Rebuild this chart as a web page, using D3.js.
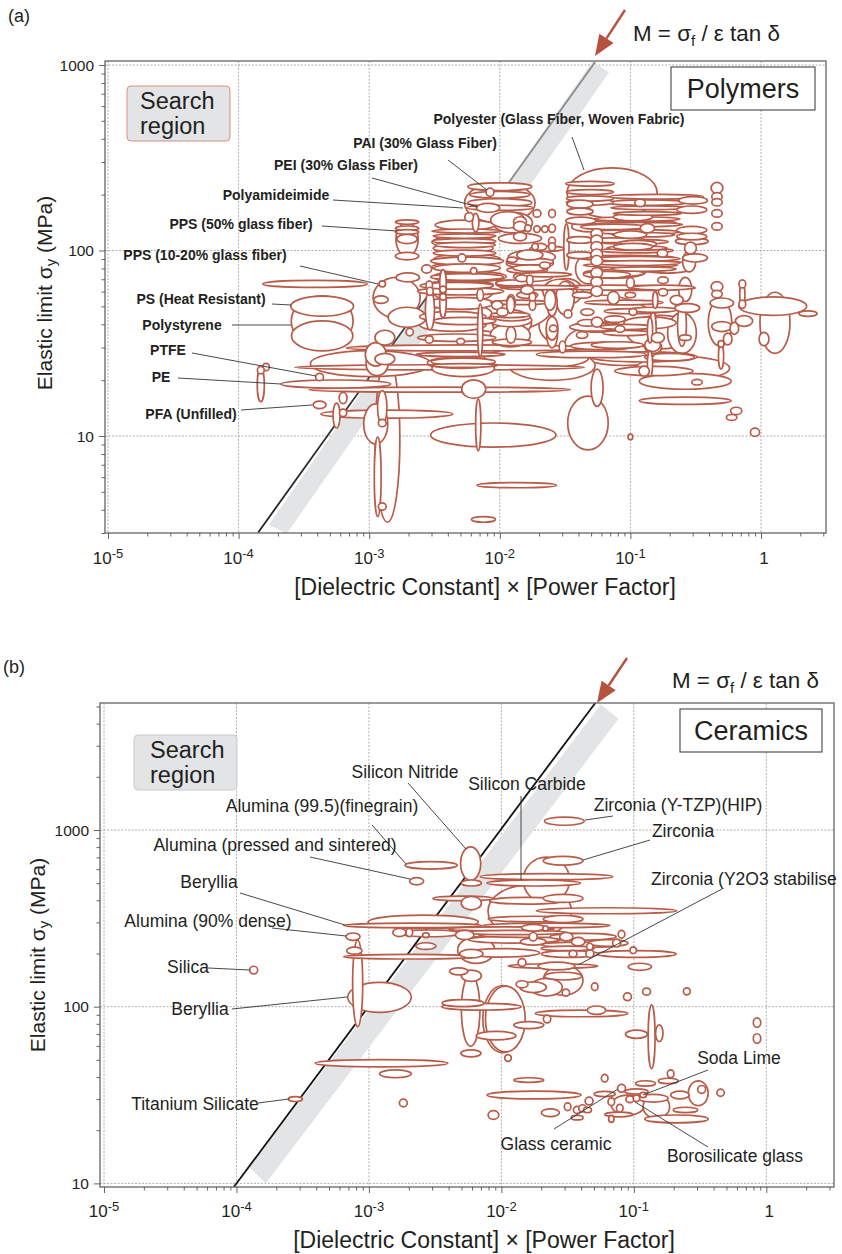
<!DOCTYPE html>
<html><head><meta charset="utf-8">
<script src="https://cdn.jsdelivr.net/npm/d3@7/dist/d3.min.js"></script>
<style>html,body{margin:0;padding:0;background:#fff}svg{display:block}text{font-family:"Liberation Sans",Arial,sans-serif;fill:#231f20}</style>
</head><body><svg id="c" width="842" height="1254"></svg>
<script>
// Every bubble row: [log10 x centre, log10 y centre, log10 half-span x, log10 half-span y]
const polyBackground=[[-2,2.256,.27,.108],[-1.14,2.31,.345,.135],[-1.907,1.61,.15,.07],[-2.79,1.745,.18,.11],[-3.36,1.62,.237,.135],[-2.86,.98,.095,.445],[-2.99,1.39,.46,.07],[-2.05,1.005,.48,.065],[-.6,1.365,.36,.063],[-.58,1.295,.352,.043],[-.58,1.19,.352,.02],[-2.205,1.475,.97,.016],[-2.46,1.37,1.11,.014],[-2.46,1.25,1,.014],[-2.865,1.118,.505,.022],[-3.255,1.28,.42,.022],[-3.415,1.82,.4,.019],[-1.87,.735,.305,.014],[-2.125,.55,.092,.015],[-1.325,1.07,.155,.145],[-1.255,1.26,.046,.1],[-1,.995,.018,.015],[-1.6,1.38,.33,.08],[-1.05,1.5,.45,.12],[-2.0,1.7,.4,.14],[-1.25,1.6,.45,.16],[-.82,1.35,.3,.025],[-1.3,1.44,.42,.018]];
const polyLabelled=[[-3.36,1.7,.24,.054],[-3.36,1.54,.235,.081],[-2.9,1.82,.025,.016],[-2.71,2.153,.09,.012],[-2.71,2.12,.09,.012],[-2.71,2.1,.09,.012],[-2.71,2.062,.078,.025],[-2.71,1.97,.09,.02],[-2.71,2.06,.085,.09],[-3.38,1.318,.03,.02],[-3.79,1.372,.026,.02],[-3.83,1.355,.026,.02],[-3.83,1.275,.027,.09],[-3.2,1.205,.03,.03],[-3.38,1.168,.05,.02],[-3.25,1.11,.027,.067],[-3.2,1.125,.028,.02]];
const polyLowColumn=[[-2.91,1.735,.056,.02],[-2.71,1.64,.145,.054],[-2.69,1.56,.028,.02],[-2.54,1.52,.03,.02],[-2.3,1.51,.03,.016],[-2.88,1.53,.076,.04],[-2.95,1.44,.08,.063],[-2.88,1.415,.076,.03],[-2.94,1.39,.085,.065],[-2.28,1.365,.24,.045],[-2.28,1.4,.245,.02],[-2.28,1.38,.26,.01],[-2.95,1.065,.092,.108],[-2.9,1.155,.036,.09],[-2.9,1.07,.03,.02],[-2.9,.62,.03,.02],[-2.935,.78,.026,.215],[-2.2,1.253,.092,.05],[-2.165,1.06,.02,.14],[-2.705,1.855,.09,.024]];
const polyTopStack=[[-2,2.344,.245,.021],[-2.075,2.314,.03,.022],[-2,2.3,.23,.018],[-2,2.258,.245,.021],[-2.09,2.23,.09,.024],[-2,2.23,.255,.014],[-2.235,2.18,.033,.024],[-2.185,2.15,.025,.05],[-1.9,2.15,.15,.055]];
const polyLeftStack=[[-2.265,2.137,.23,.027],[-2.25,2.105,.27,.011],[-2.27,2.078,.24,.012],[-2.27,2.05,.24,.014],[-2.265,2.03,.23,.014],[-2.27,1.986,.24,.016],[-2.25,1.954,.255,.027],[-2.29,1.96,.03,.022],[-2.25,1.905,.255,.023],[-2.2,1.89,.025,.018],[-2.27,1.857,.24,.022],[-2.25,1.857,.28,.018],[-2.33,1.81,.28,.018],[-2.3,1.78,.33,.02],[-2.15,1.76,.025,.032],[-2.435,1.825,.025,.072],[-2.435,1.717,.025,.08],[-2.535,1.68,.035,.108],[-2.54,1.814,.025,.022],[-2.56,1.9,.038,.022],[-2.435,1.79,.025,.018],[-2.435,1.75,.025,.018],[-2.535,1.78,.025,.022],[-2.15,1.57,.02,.143],[-2.3,1.66,.24,.05],[-2.27,1.62,.24,.02]];
const polyLeftStackExtra=[[-2.28,2.046,.24,.032],[-2.28,2.012,.23,.022],[-2.25,1.943,.28,.021],[-2.28,1.91,.24,.025],[-2.23,1.86,.28,.027],[-2.305,1.814,.255,.022],[-2.28,1.778,.23,.055],[-2.3,1.715,.255,.032],[-2.36,1.643,.255,.027],[-2.36,1.6,.255,.036],[-2.3,1.395,.255,.03],[-2.33,1.53,.3,.02],[-2.3,1.44,.34,.012]];
const polyMiddle=[[-1.715,2.2,.03,.02],[-1.6,2.2,.026,.022],[-1.6,2.12,.026,.022],[-1.6,2.05,.026,.022],[-1.6,2.02,.026,.022],[-1.845,2.155,.05,.027],[-1.845,2.13,.05,.027],[-1.845,2.075,.05,.023],[-1.785,2.12,.025,.018],[-1.715,2.115,.025,.018],[-1.655,2.115,.025,.018],[-1.845,2.065,.165,.027],[-1.94,2.165,.13,.045],[-1.64,2.01,.13,.014],[-1.73,2.02,.025,.018],[-1.69,2.02,.05,.018],[-1.755,1.965,.18,.036],[-1.77,1.93,.18,.027],[-1.655,1.92,.04,.018],[-1.79,1.895,.155,.018],[-1.906,1.95,.038,.014],[-1.83,1.85,.05,.018],[-1.9,1.825,.13,.016],[-1.77,1.84,.025,.027],[-1.79,1.787,.05,.023],[-1.615,1.733,.043,.055],[-1.75,1.75,.025,.022],[-1.75,1.705,.025,.027],[-2.02,1.705,.043,.023],[-1.98,1.668,.043,.022],[-1.914,1.717,.033,.045],[-1.914,1.545,.037,.045],[-1.907,1.64,.14,.02],[-1.907,1.505,.15,.018],[-1.6,1.555,.043,.08],[-1.59,1.58,.03,.018],[-1.5,1.743,.07,.09],[-1.478,1.658,.03,.022],[-1.52,1.48,.025,.032]];
const polyMiddleExtra=[[-1.92,1.543,.153,.063],[-1.92,1.625,.165,.036],[-1.92,1.652,.15,.014],[-1.917,1.706,.03,.045],[-1.77,1.976,.1,.027],[-1.77,1.94,.18,.018],[-1.77,1.905,.13,.018],[-1.745,1.86,.15,.027],[-1.9,1.82,.13,.018],[-1.79,1.76,.08,.018],[-1.6,1.717,.04,.07],[-1.6,1.58,.045,.063],[-1.49,1.778,.125,.07],[-1.72,1.42,.4,.055],[-1.7,1.8,.3,.012],[-1.65,1.87,.2,.012],[-1.85,1.72,.22,.012]];
const polyRightStack=[[-1.31,2.36,.185,.013],[-1.31,2.315,.18,.013],[-1.31,2.28,.18,.014],[-1.31,2.26,.18,.016],[-1.386,2.25,.1,.022],[-1.386,2.21,.1,.018],[-1.38,2.16,.115,.02],[-1.49,2.02,.02,.125],[-1.386,2.057,.1,.018],[-1.386,1.975,.1,.018],[-1.258,2.09,.045,.028],[-1.258,2.055,.045,.028],[-1.258,2.02,.045,.028],[-1.258,1.98,.045,.028],[-1.258,1.945,.045,.028],[-1.258,1.88,.045,.028],[-1.258,1.83,.045,.028],[-1.258,1.78,.045,.028],[-.926,2.257,.04,.02],[-.8,2.29,.36,.013],[-.87,2.258,.3,.015],[-.85,2.23,.3,.01],[-.98,2.18,.15,.02],[-.87,2.2,.26,.01],[-.87,2.12,.055,.025],[-1.13,2.127,.25,.015],[-1,2.085,.125,.02],[-.9,2.085,.24,.012],[-1.13,2.055,.25,.013],[-.95,2.035,.15,.02],[-.95,2.013,.23,.012],[-.755,1.985,.04,.02],[-1.03,1.96,.38,.014],[-1,1.92,.36,.012],[-1.13,1.885,.25,.035],[-.9,1.9,.25,.012],[-1.18,1.87,.18,.018],[-1.18,1.8,.38,.013],[-1.13,1.745,.045,.035],[-1.37,1.76,.075,.017],[-.98,1.668,.03,.018],[-1.05,1.72,.3,.013],[-1.256,1.614,.043,.027],[-1.08,1.577,.037,.018],[-1.256,1.587,.2,.027],[-1.37,1.544,.043,.018],[-1.217,1.485,.24,.02],[-.827,1.555,.025,.125],[-.83,1.49,.06,.035],[-1.33,1.668,.05,.018],[-1.33,1.61,.075,.018]];
const polyRightStackExtra=[[-.98,2.047,.27,.013],[-.98,2.02,.15,.018],[-.95,2,.28,.013],[-.95,1.955,.33,.013],[-.95,1.932,.33,.013],[-.926,1.905,.41,.02],[-1.13,1.877,.23,.02],[-1,1.825,.03,.028],[-.95,1.798,.45,.013],[-1,1.76,.04,.014],[-.98,1.673,.22,.014],[-1.12,1.63,.08,.018],[-1.285,1.587,.18,.022],[-1.03,1.588,.2,.014],[-1.03,1.555,.18,.014],[-.77,1.56,.26,.09],[-.9,1.426,.41,.027],[-1.54,1.78,.13,.065],[-1.1,1.49,.2,.018],[-1,2.15,.35,.012],[-.95,2.17,.33,.012],[-.95,2.14,.35,.012],[-.95,2.1,.33,.012],[-1.3,2.13,.15,.03],[-1.32,1.9,.1,.08]];
const polyFarRight=[[-.49,1.29,.04,.015],[-.19,1.135,.043,.02],[-.225,1.1,.04,.016],[-.046,1.02,.035,.022],[.09,1.7,.26,.05],[.36,1.66,.07,.015],[.107,1.61,.115,.165],[.023,1.523,.038,.036],[-.3,1.717,.09,.027],[-.337,1.805,.045,.027],[-.337,1.765,.04,.02],[-.143,1.82,.026,.022],[-.143,1.76,.02,.063],[-.143,1.71,.026,.022],[-.13,1.62,.066,.029],[-.204,1.58,.033,.032],[-.3,1.59,.077,.027],[-.314,1.61,.09,.125],[-.255,1.523,.033,.032],[-.306,1.43,.02,.07],[-.306,1.496,.023,.018],[-.337,2.337,.045,.03],[-.337,2.29,.04,.022],[-.337,2.26,.04,.02],[-.337,2.2,.04,.02],[-.337,2.13,.04,.02],[-.52,2.27,.11,.02],[-.53,2.22,.115,.02],[-.53,2.11,.115,.02],[-.53,2.075,.115,.018],[-.53,2.05,.125,.018],[-.54,2.013,.045,.032],[-.505,1.96,.095,.022],[-.55,1.94,.05,.055],[-.72,1.91,.21,.032],[-.75,1.84,.04,.018],[-.75,1.775,.035,.02],[-.58,1.79,.05,.065],[-.645,1.733,.05,.025],[-.565,1.69,.095,.024],[-.605,1.6,.034,.117],[-.58,1.53,.045,.015],[-.605,1.555,.11,.11],[-.79,1.53,.05,.027],[-.825,1.48,.065,.035],[-.85,1.39,.02,.07],[-.7,1.425,.19,.02],[-.895,1.35,.04,.027],[-.81,1.733,.02,.045],[-.85,1.57,.02,.07],[-.75,1.8,.24,.013],[-.85,1.61,.2,.032],[-.825,1.68,.18,.014]];
const ceramicUpper=[[-2.232,2.81,.076,.095],[-2.53,2.8,.197,.021],[-2.64,2.71,.053,.02],[-1.534,2.826,.15,.025],[-1.525,3.05,.15,.023],[-1.66,2.736,.5,.017],[-1.755,2.7,.353,.017],[-1.66,2.717,.175,.13],[-1.786,2.54,.315,.15],[-2.227,2.7,.076,.017],[-2.29,2.613,.227,.013],[-1.81,2.6,.28,.019],[-1.534,2.613,.15,.023],[-2.227,2.586,.076,.038],[-1.206,2.543,.53,.017],[-1.534,2.496,.15,.02],[-1.76,2.496,.34,.016],[-1.66,2.46,.48,.013]];
const ceramicMiddle=[[-2.59,2.48,.416,.038],[-2.67,2.46,.52,.013],[-2.77,2.42,.05,.023],[-2.695,2.42,.025,.023],[-2.57,2.405,.025,.013],[-2.54,2.415,.227,.019],[-3.12,2.396,.053,.021],[-2.57,2.343,.076,.019],[-3.11,2.317,.058,.02],[-2.69,2.283,.5,.013],[-3.085,2.132,.038,.245],[-2.92,2.053,.24,.085],[-2.277,2.406,.07,.026],[-2.19,2.32,.14,.075],[-2.227,2.3,.088,.024],[-1.99,2.305,.28,.024],[-1.76,2.396,.03,.024],[-1.76,2.447,.088,.019],[-1.667,2.443,.02,.015],[-1.76,2.368,.096,.02],[-1.51,2.396,.05,.024],[-1.383,2.396,.25,.019],[-1.42,2.368,.05,.024],[-1.194,2.36,.15,.019],[-1.332,2.34,.025,.019],[-1.13,2.36,.03,.022],[-1.093,2.41,.025,.022],[-1.005,2.32,.025,.019],[-.98,2.298,.3,.019],[-1.459,2.3,.03,.019],[-1.332,2.3,.03,.022],[-1.484,2.298,.214,.019],[-1.844,2.25,.03,.022],[-1.584,2.23,.14,.022],[-1.61,2.23,.34,.013],[-.955,2.226,.088,.02],[-2.227,2.175,.076,.032],[-2.322,2.2,.07,.02],[-1.534,2.15,.15,.085],[-1.534,2.173,.14,.022],[-1.513,2.08,.028,.02],[-1.844,2.127,.045,.02],[-1.295,2.113,.025,.022],[-1.048,2.056,.03,.022],[-.904,2.085,.03,.02],[-.6,2.087,.026,.02],[-3.87,2.207,.03,.022]];
const ceramicMiddleExtra=[[-2,2.44,.4,.012],[-1.9,2.42,.4,.012],[-1.75,2.405,.42,.013],[-1.9,2.38,.35,.02],[-1.4,2.35,.3,.015],[-1.5,2.33,.2,.013],[-1.76,2.11,.1,.03],[-1.66,2.11,.12,.05]];
const ceramicLower=[[-2.232,1.98,.07,.204],[-2.29,2.02,.157,.02],[-2.15,2,.3,.019],[-1.99,1.93,.15,.19],[-1.97,1.93,.15,.186],[-2.04,1.836,.15,.024],[-1.793,1.896,.113,.02],[-2.23,1.736,.076,.02],[-1.95,1.71,.025,.019],[-1.395,1.962,.35,.019],[-1.282,1.98,.07,.024],[-1.655,1.93,.028,.022],[-.866,1.83,.026,.18],[-.98,1.844,.083,.023],[-.808,1.85,.028,.047],[-.07,1.91,.028,.027],[-.07,1.82,.028,.027],[-3.555,1.477,.053,.014],[-2.905,1.68,.5,.02],[-2.8,1.62,.12,.022],[-2.74,1.455,.03,.022],[-2.06,1.387,.04,.025]];
const ceramicGlass=[[-1.793,1.585,.113,.013],[-1.753,1.5,.355,.022],[-1.63,1.4,.068,.022],[-1.5,1.434,.025,.022],[-1.428,1.416,.028,.02],[-1.388,1.425,.028,.02],[-1.338,1.466,.03,.022],[-1.35,1.416,.03,.015],[-1.428,1.372,.045,.013],[-1.22,1.595,.025,.022],[-1.22,1.506,.08,.015],[-1.093,1.538,.03,.022],[-1.17,1.462,.025,.022],[-1.106,1.425,.025,.022],[-1.114,1.39,.105,.013],[-1.17,1.365,.02,.02],[-1.03,1.476,.03,.019],[-.98,1.482,.025,.019],[-.93,1.5,.025,.015],[-1.045,1.443,.125,.057],[-.98,1.52,.088,.015],[-.912,1.566,.075,.015],[-.74,1.58,.075,.015],[-.722,1.62,.025,.022],[-.854,1.482,.113,.022],[-.83,1.434,.1,.066],[-.652,1.5,.07,.022],[-.61,1.416,.093,.015],[-.678,1.365,.24,.022],[-.514,1.51,.075,.07],[-.488,1.532,.03,.022],[-.345,1.513,.028,.02]];
const polyBubbles=[...polyBackground,...polyLabelled,...polyLowColumn,...polyTopStack,...polyLeftStack,...polyLeftStackExtra,...polyMiddle,...polyMiddleExtra,...polyRightStack,...polyRightStackExtra,...polyFarRight];
const ceramicBubbles=[...ceramicUpper,...ceramicMiddle,...ceramicMiddleExtra,...ceramicLower,...ceramicGlass];
const xTickExponents=[-5,-4,-3,-2,-1];
const polyYTicks=[10,100,1000];
const ceramicYTicks=[10,100,1000];
const polyLabels=[["Polyester (Glass Fiber, Woven Fabric)",559,124],["PAI (30% Glass Fiber)",425,148],["PEI (30% Glass Fiber)",346,170],["Polyamideimide",276,200],["PPS (50% glass fiber)",241,229],["PPS (10-20% glass fiber)",205,260],["PS (Heat Resistant)",201,304],["Polystyrene",182,330],["PTFE",168,355],["PE",161,382],["PFA (Unfilled)",191,419]];
const polyLeaders=[[572,137,584,170],[448,160,487,190],[372,178,478,207],[333,200,463,208],[322,226,397,231],[300,266,378,284],[272,304,291,305],[232,325,291,325],[192,353,316,376],[178,378,281,384],[241,410,312,405]];
const ceramicLabels=[["Silicon Nitride",405,778],["Silicon Carbide",527,790],["Alumina (99.5)(finegrain)",322,812],["Zirconia (Y-TZP)(HIP)",678,811],["Zirconia",683,837],["Alumina (pressed and sintered)",275,851],["Beryllia",209,888],["Alumina (90% dense)",208,927],["Silica",188,973],["Beryllia",200,1015],["Titanium Silicate",195,1110],["Glass ceramic",556,1150],["Soda Lime",739,1064],["Borosilicate glass",735,1162]];
const ceramicLeaders=[[408,783,466,849],[372,825,406,864],[521,796,521,880],[310,857,410,879],[585,820,613,816],[583,860,650,840],[722,889,578,965],[240,893,345,925],[272,928,346,936],[208,968,250,970],[232,1009,347,997],[258,1103,289,1099],[554,1129,618,1089],[708,1070,643,1095],[708,1147,635,1102]];

const svg=d3.select("#c");
const RED="#b85c4a",GREY="#e3e4e6";
function minorDecades(a,b){const o=[];for(let e=a;e<=b;e++)for(let m=1;m<10;m++)o.push(m*10**e);return o}

function panel(o){
  const x=d3.scaleLog().domain([1e-5,1]).range(o.xr);
  const y=d3.scaleLog().domain([10,1000]).range(o.yr);
  const [L,R,T,B]=o.frame;
  const g=svg.append("g");

  // grid
  const gx=[...xTickExponents.map(e=>10**e),1], gy=o.yTicks;
  g.selectAll(".gx").data(gx).join("line").attr("x1",d=>x(d)).attr("x2",d=>x(d)).attr("y1",T).attr("y2",B).attr("stroke","#9a9a9a").attr("stroke-width",.8).attr("stroke-dasharray","2 1.5");
  g.selectAll(".gy").data(gy).join("line").attr("y1",d=>y(d)).attr("y2",d=>y(d)).attr("x1",L).attr("x2",R).attr("stroke","#9a9a9a").attr("stroke-width",.8).attr("stroke-dasharray","2 1.5");

  // search band and guide line (y = M·x)
  const bandPts=o.band.map(([lx,ly])=>[x(10**lx),y(10**ly)]);
  g.append("polygon").attr("points",bandPts.join(" ")).attr("fill",GREY);
  const grad=svg.append("linearGradient").attr("id","lg"+o.tag).attr("gradientUnits","userSpaceOnUse")
    .attr("x1",x(10**o.guide[0][0])).attr("y1",y(10**o.guide[0][1])).attr("x2",x(10**o.guide[1][0])).attr("y2",y(10**o.guide[1][1]));
  o.guideStops.forEach(([f,c])=>grad.append("stop").attr("offset",f).attr("stop-color",c));
  g.append("line").attr("x1",x(10**o.guide[0][0])).attr("y1",y(10**o.guide[0][1])).attr("x2",x(10**o.guide[1][0])+.01).attr("y2",y(10**o.guide[1][1]))
    .attr("stroke","url(#lg"+o.tag+")").attr("stroke-width",1.8);

  // bubbles, largest first
  const rows=[...o.bubbles].sort((a,b)=>b[2]*b[3]-a[2]*a[3]);
  g.selectAll("ellipse").data(rows).join("ellipse")
    .attr("cx",d=>x(10**d[0])).attr("cy",d=>y(10**d[1]))
    .attr("rx",d=>x(10**(d[0]+d[2]))-x(10**d[0]))
    .attr("ry",d=>y(10**d[1])-y(10**(d[1]+d[3])))
    .attr("fill","#fff").attr("stroke",RED).attr("stroke-width",1.7);

  // frame
  g.append("rect").attr("x",L).attr("y",T).attr("width",R-L).attr("height",B-T).attr("fill","none").attr("stroke","#6f6f6f").attr("stroke-width",1.4);

  // axes
  const xTickVals=minorDecades(-5,0).filter(d=>x(d)<=R);
  const xa=d3.axisBottom(x).tickValues(xTickVals).tickSize(0).tickFormat("");
  const axG=g.append("g").attr("transform",`translate(0,${B})`).call(xa);
  axG.select(".domain").remove();
  axG.selectAll(".tick line").attr("y2",d=>Math.abs(Math.log10(d)%1)<1e-6?6:3.5).attr("stroke","#555").attr("stroke-width",.9);
  const yTickVals=minorDecades(0,3).filter(d=>y(d)>=T&&y(d)<=B);
  const ya=d3.axisLeft(y).tickValues(yTickVals).tickSize(0).tickFormat("");
  const ayG=g.append("g").attr("transform",`translate(${L},0)`).call(ya);
  ayG.select(".domain").remove();
  ayG.selectAll(".tick line").attr("x2",d=>Math.abs(Math.log10(d)%1)<1e-6?-6:-3.5).attr("stroke","#555").attr("stroke-width",.9);

  // tick labels
  xTickExponents.forEach(e=>{
    const t=g.append("text").attr("x",x(10**e)).attr("y",o.xLabY).attr("text-anchor","middle").attr("font-size",17);
    t.append("tspan").text("10");
    t.append("tspan").attr("font-size",13).attr("dy",-6).text(e<0?"-"+(-e):e);
  });
  g.append("text").attr("x",x(1)+3).attr("y",o.xLabY).attr("text-anchor","middle").attr("font-size",17).text("1");
  o.yTicks.forEach(v=>g.append("text").attr("x",L-11).attr("y",y(v)+5.5).attr("text-anchor","end").attr("font-size",15.5).text(v));

  // titles
  const xt=g.append("text").attr("x",o.xTitle[0]).attr("y",o.xTitle[1]).attr("text-anchor","middle").attr("font-size",23);
  xt.text("[Dielectric Constant] × [Power Factor]");
  const yt=g.append("text").attr("transform",`translate(${o.yTitle[0]},${o.yTitle[1]}) rotate(-90)`).attr("text-anchor","middle").attr("font-size",21);
  yt.append("tspan").text("Elastic limit σ");
  yt.append("tspan").attr("font-size",15).attr("dy",4).text("y");
  yt.append("tspan").attr("dy",-4).text(" (MPa)");
  g.append("text").attr("x",o.tagPos[0]).attr("y",o.tagPos[1]).attr("font-size",18).text("("+o.tag+")");

  // M label and arrow
  const m=g.append("text").attr("x",o.mPos[0]).attr("y",o.mPos[1]).attr("font-size",22.4);
  m.append("tspan").text("M = σ");
  m.append("tspan").attr("font-size",15).attr("dy",5).text("f");
  m.append("tspan").attr("dy",-5).text(" / ε tan δ");
  const [ax,ay,bx,by]=o.arrow;
  const ang=Math.atan2(by-ay,bx-ax),h=21,w=8.5;
  const bsx=bx-h*Math.cos(ang),bsy=by-h*Math.sin(ang);
  g.append("line").attr("x1",ax).attr("y1",ay).attr("x2",bsx).attr("y2",bsy).attr("stroke","#b5523f").attr("stroke-width",2.4);
  g.append("polygon").attr("fill","#b5523f").attr("points",[[bx,by],[bsx-w*Math.sin(ang),bsy+w*Math.cos(ang)],[bsx+w*Math.sin(ang),bsy-w*Math.cos(ang)]].join(" "));

  // search box
  const s=o.search;
  g.append("rect").attr("x",s[0]).attr("y",s[1]).attr("width",s[2]).attr("height",s[3]).attr("rx",4).attr("fill",GREY).attr("stroke",o.searchStroke).attr("stroke-width",1);
  g.append("text").attr("x",s[0]+o.searchInset).attr("y",s[1]+23).attr("font-size",23.5).text("Search");
  g.append("text").attr("x",s[0]+o.searchInset).attr("y",s[1]+48).attr("font-size",23.5).text("region");

  // class box
  const c=o.classBox;
  g.append("rect").attr("x",c[0]).attr("y",c[1]).attr("width",c[2]).attr("height",c[3]).attr("fill","#fff").attr("stroke","#444").attr("stroke-width",1.1);
  g.append("text").attr("x",c[0]+c[2]/2).attr("y",c[1]+c[3]/2+9.5).attr("text-anchor","middle").attr("font-size",27).text(o.className);

  // leaders and labels
  g.selectAll(".ld").data(o.leaders).join("line").attr("x1",d=>d[0]).attr("y1",d=>d[1]).attr("x2",d=>d[2]).attr("y2",d=>d[3]).attr("stroke","#333").attr("stroke-width",.9);
  g.selectAll(".lb").data(o.labels).join("text").attr("x",d=>d[1]).attr("y",d=>d[2]).attr("text-anchor","middle").attr("font-size",o.labelSize).attr("font-weight",o.labelWeight).text(d=>d[0]);
  return g;
}

panel({tag:"a",xr:[108,761],yr:[436,65],frame:[105,826,61,533],yTicks:polyYTicks,bubbles:polyBubbles,
  band:[[-3.77,.52],[-3.63,.475],[-1.164,2.96],[-1.29,3.02]],guide:[[-3.85,.48],[-1.27,3.016]],guideStops:[[0,"#222"],[.45,"#444"],[.7,"#8a8a8a"],[1,"#8a8a8a"]],
  xLabY:564,xTitle:[485,595],yTitle:[52,293],tagPos:[8,22],mPos:[633,41],arrow:[625,10,595,56],search:[127,86,103,55],searchStroke:"#d98f80",searchInset:13,
  classBox:[671,67,144,43],className:"Polymers",leaders:polyLeaders,labels:polyLabels,labelSize:14,labelWeight:"bold"});
panel({tag:"b",xr:[104,766.3],yr:[1183.4,830],frame:[100,834,703,1187],yTicks:ceramicYTicks,bubbles:ceramicBubbles,
  band:[[-3.9,1.09],[-3.78,1],[-1.115,3.63],[-1.25,3.71]],guide:[[-4.02,.98],[-1.29,3.72]],guideStops:[[0,"#111"],[1,"#111"]],
  xLabY:1217,xTitle:[484,1248],yTitle:[45,955],tagPos:[3,673],mPos:[672,688],arrow:[627,658,597,703],search:[134,735,103,55],searchStroke:"#c9c9c9",searchInset:16,
  classBox:[680,709,142,43],className:"Ceramics",leaders:ceramicLeaders,labels:ceramicLabels,labelSize:17.5,labelWeight:"normal"});
// the reference shows this label only up to the frame edge
svg.append("text").attr("x",651).attr("y",885).attr("font-size",17.5).text("Zirconia (Y2O3 stabilise");
</script></body></html>
